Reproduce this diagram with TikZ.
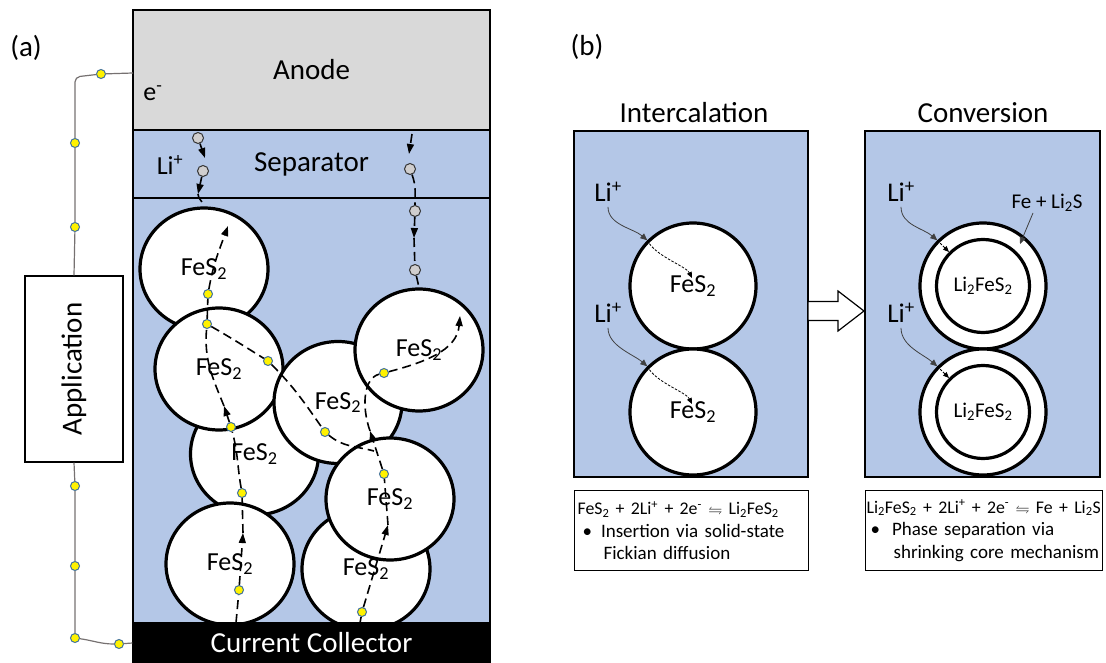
\documentclass[tikz,border=0pt]{standalone}
\usepackage{fontspec}
\setmainfont{Carlito}
\usepackage{amssymb}
\usetikzlibrary{arrows.meta,shapes.geometric}

\definecolor{electrolyte}{HTML}{B4C7E7}
\definecolor{anodegray}{HTML}{D9D9D9}
\definecolor{iongray}{HTML}{D0CECE}
\definecolor{dotrim}{HTML}{41719C}
\definecolor{wiregray}{HTML}{767171}

\newcommand\eqharp{{\fontsize{14}{14}\selectfont$\leftrightharpoons$}}
\newcommand\eqline{\fontsize{17.8}{22.5}\selectfont}

\begin{document}
\begin{tikzpicture}[x=1pt,y=-1pt,
  every node/.style={font=\fontsize{29}{33}\selectfont},
  layer/.style={draw,line width=1.2pt,minimum width=357pt,inner sep=0pt},
  chem/.style={font=\fontsize{26}{30}\selectfont},
  particle/.style={ellipse,draw,line width=3.2pt,fill=white,minimum width=128pt,minimum height=122pt,inner sep=0pt,chem},
  grain/.style={circle,draw,line width=3.2pt,fill=white,minimum size=126pt,inner sep=0pt,chem},
  core/.style={circle,draw,line width=3.2pt,fill=white,minimum size=93pt,inner sep=0pt,font=\fontsize{21}{24}\selectfont},
  edot/.style={circle,draw=dotrim,line width=1pt,fill=yellow,minimum size=9pt,inner sep=0pt},
  ion/.style={circle,draw=black!80,line width=1pt,fill=iongray,minimum size=11pt,inner sep=0pt},
  epath/.style={line width=1.6pt,dash pattern=on 9pt off 5pt},
  tip/.style={-{Triangle[length=10pt,width=7pt]}},
  wire/.style={draw=wiregray,line width=1.2pt},
  panel/.style={draw,line width=1.2pt,fill=electrolyte,inner sep=0pt},
  flux/.style={draw=black!75,line width=0.8pt,-{Triangle[length=7pt,width=6pt]}},
  seep/.style={line width=0.8pt,dash pattern=on 2.5pt off 1.5pt,-{Triangle[length=6pt,width=5pt]}},
  small/.style={font=\fontsize{27}{30}\selectfont,inner sep=1pt},
  notebox/.style={draw,line width=1.2pt,anchor=north west,align=left,minimum height=80pt,font=\fontsize{19}{22.5}\selectfont}
]
\useasboundingbox (0,0) rectangle (1106,663);

% (a) cell
\node at (26,48) {(a)};
\node[layer,fill=anodegray,minimum height=120pt] (anode) at (311.5,70) {Anode};
\node[layer,fill=electrolyte,minimum height=68pt] (sep) at (311.5,164) {Separator};
\node[layer,fill=electrolyte,minimum height=425pt] (cathode) at (311.5,410.5) {};
\node[chem] at (153,93) {e\textsuperscript{-}};
\node[chem] at (170,165) {Li\textsuperscript{+}};

% cathode particles, back to front
\node[particle] (p1) at (204,269) {FeS\textsubscript{2}};
\node[particle] (p3) at (254.5,454) {FeS\textsubscript{2}};
\node[particle] (p2) at (219,369) {FeS\textsubscript{2}};
\node[particle] (p4) at (230,564) {FeS\textsubscript{2}};
\node[particle] (p8) at (366,569) {FeS\textsubscript{2}};
\node[particle] (p5) at (338,402.5) {FeS\textsubscript{2}};
\node[particle] (p6) at (419,350) {FeS\textsubscript{2}};
\node[particle] (p7) at (390,499) {FeS\textsubscript{2}};

\node[layer,fill=black,text=white,minimum height=40pt] (collector) at (311.5,643) {Current Collector};

% external circuit
\node[draw,line width=1.2pt,minimum width=98pt,minimum height=186pt,inner sep=0pt] (app) at (74,369) {};
\node[rotate=90] at (app.center) {Application};
\coordinate (wA) at (133,73);
\node[edot] (w1) at (101,74) {};
\node[edot] (w2) at (75,143) {};
\node[edot] (w3) at (75,227) {};
\node[edot] (w4) at (75,486) {};
\node[edot] (w5) at (75,566) {};
\node[edot] (w6) at (75,638) {};
\node[edot] (w7) at (119,644) {};
\draw[wire,rounded corners=5pt] (wA) -- (w1) -- (75,77) -- (w2);
\draw[wire] (w2) -- (w3) -- (app.north);
\draw[wire] (app.south) -- (w4) -- (w5) -- (w6);
\draw[wire] (w6) to[out=-8,in=180] (w7) -- (collector.west);

% ions and electrons
\node[ion] (iL1) at (198,138) {};
\node[ion] (iL2) at (203,171) {};
\node[ion] (iR1) at (410,169) {};
\node[ion] (iR2) at (415,211) {};
\node[ion] (iR3) at (415,270) {};
\node[edot] (eA1) at (239,590) {};
\node[edot] (eA2) at (242,493) {};
\node[edot] (eA3) at (231,427) {};
\node[edot] (eA4) at (207,324) {};
\node[edot] (eA5) at (208,294) {};
\node[edot] (eB1) at (268,361) {};
\node[edot] (eB2) at (325,432) {};
\node[edot] (eC1) at (362,612) {};
\node[edot] (eC2) at (384,474) {};
\node[edot] (eC3) at (384,373) {};

\coordinate (cA) at (236,623);
\coordinate (tA1) at (243,533);
\coordinate (tA2) at (224,406);
\coordinate (tA3) at (228,226);
\coordinate (bEnd) at (374,451);
\coordinate (cC) at (360,623);
\coordinate (tC1) at (388,525);
\coordinate (tC2) at (370,431);
\coordinate (tC3) at (460,316);
\coordinate (dStart) at (412,134);
\coordinate (tD1) at (409,154);
\coordinate (tD2) at (414,238);
\coordinate (tE1) at (205,158);
\coordinate (tE2) at (198,194);

% Li+ through the separator
\draw[epath,tip] (iL1) -- (tE1);
\draw[epath,tip] (iL2) -- (tE2);
\draw[epath] (tE2) to[out=-90,in=100] (p1.north);
\draw[epath,tip] (dStart) -- (tD1);
\draw[epath] (iR1) to[out=-70,in=90] (iR2);
\draw[epath,tip] (iR2) -- (tD2);
\draw[epath] (tD2) -- (iR3);
\draw[epath] (iR3) -- (p6.north);

% electron paths
\draw[epath] (cA) -- (eA1);
\draw[epath,tip] (eA1) -- (tA1);
\draw[epath] (tA1) -- (eA2);
\draw[epath] (eA2) to[out=100,in=-75] (eA3);
\draw[epath,tip] (eA3) -- (tA2);
\draw[epath] (tA2) to[out=112,in=-95] (eA4);
\draw[epath] (eA4) -- (eA5);
\draw[epath,tip] (eA5) to[out=80,in=-110] (tA3);
\draw[epath] (eA4) to[out=-30,in=148] (eB1) to[out=-45,in=125] (eB2) to[out=-40,in=165] (bEnd);
\draw[epath] (cC) -- (eC1);
\draw[epath,tip] (eC1) -- (tC1);
\draw[epath] (tC1) -- (eC2);
\draw[epath,tip] (eC2) -- (tC2);
\draw[epath] (tC2) .. controls (361,405) and (364,378) .. (eC3);
\draw[epath,tip] (eC3) to[out=15,in=-95] (tC3);

% (b) mechanisms
\node at (587,47) {(b)};
\node at (694,113) {Intercalation};
\node at (983,113) {Conversion};
\node[panel,minimum width=234pt,minimum height=346pt] (intc) at (691,304) {};
\node[panel,minimum width=235pt,minimum height=346pt] (conv) at (982.5,304) {};

\node[grain] (g1) at (693,286) {FeS\textsubscript{2}};
\node[grain] (g2) at (693,412) {FeS\textsubscript{2}};
\node[grain] (r1) at (983,286) {};
\node[grain] (r2) at (983,412) {};
\node[core] (c1) at (983,286) {Li\textsubscript{2}FeS\textsubscript{2}};
\node[core] (c2) at (983,412) {Li\textsubscript{2}FeS\textsubscript{2}};

\node[small] (liA) at (608,192) {Li\textsuperscript{+}};
\node[small] (liB) at (608,313) {Li\textsuperscript{+}};
\node[small] (liC) at (901,192) {Li\textsuperscript{+}};
\node[small] (liD) at (901,313) {Li\textsuperscript{+}};
\node[font=\fontsize{21}{24}\selectfont,inner sep=1pt] (feli) at (1047,203) {Fe + Li\textsubscript{2}S};

\coordinate (fsA) at (692,278);
\coordinate (fsB) at (692,404);
\coordinate (shell) at (1020,244);

\draw[flux] ([yshift=-4pt]liA.south) .. controls +(0,18) and +(-14,-12) .. (g1.135);
\draw[flux] ([yshift=-4pt]liB.south) .. controls +(0,18) and +(-14,-12) .. (g2.135);
\draw[flux] ([yshift=-4pt]liC.south) .. controls +(0,18) and +(-14,-12) .. (r1.135);
\draw[flux] ([yshift=-4pt]liD.south) .. controls +(0,18) and +(-14,-12) .. (r2.135);
\draw[seep] (g1.135) .. controls +(8,16) and +(-6,-12) .. (fsA);
\draw[seep] (g2.135) .. controls +(8,16) and +(-6,-12) .. (fsB);
\draw[seep] (r1.135) -- (c1.135);
\draw[seep] (r2.135) -- (c2.135);
\draw[flux] ([xshift=-14pt]feli.south) -- (shell);

% intercalation -> conversion
\draw[line width=1.2pt,fill=white] (808,301.5) -- (838,301.5) -- (838,291) -- (864,311)
  -- (838,331) -- (838,320.5) -- (808,320.5) -- cycle;

\node[notebox,text width=228pt,inner xsep=3pt] (eqIntc) at (574,490) {{\eqline FeS\textsubscript{2} + 2Li\textsuperscript{+} + 2e\textsuperscript{-} \eqharp{} Li\textsubscript{2}FeS\textsubscript{2}}\\
\hspace*{5pt}\textbullet\hspace{9pt}Insertion via solid-state\\
\hspace*{26pt}Fickian diffusion};
\node[notebox,text width=235pt,inner xsep=1pt] (eqConv) at (865,490) {\mbox{\eqline Li\textsubscript{2}FeS\textsubscript{2} + 2Li\textsuperscript{+} + 2e\textsuperscript{-} \eqharp{} Fe + Li\textsubscript{2}S}\\
\hspace*{4pt}\textbullet\hspace{12pt}Phase separation via\\
\hspace*{27pt}shrinking core mechanism};
\end{tikzpicture}
\end{document}
